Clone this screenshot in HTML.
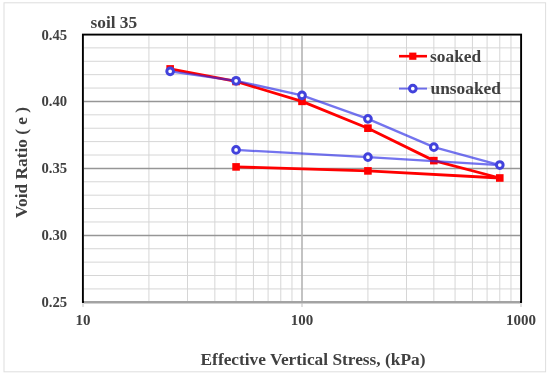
<!DOCTYPE html>
<html><head><meta charset="utf-8"><title>soil 35</title>
<style>html,body{margin:0;padding:0;background:#fff;width:550px;height:376px;overflow:hidden}
body{position:relative}</style></head><body>
<svg width="550" height="376" viewBox="0 0 550 376" style="position:absolute;left:0;top:0">
<rect x="4" y="2.8" width="541.6" height="369" fill="#fff" stroke="#dedede" stroke-width="1"/>
<line x1="84" x2="520" y1="288.91" y2="288.91" stroke="#d6d6d6" stroke-width="1"/>
<line x1="84" x2="520" y1="275.52" y2="275.52" stroke="#d6d6d6" stroke-width="1"/>
<line x1="84" x2="520" y1="262.13" y2="262.13" stroke="#d6d6d6" stroke-width="1"/>
<line x1="84" x2="520" y1="248.74" y2="248.74" stroke="#d6d6d6" stroke-width="1"/>
<line x1="84" x2="520" y1="221.96" y2="221.96" stroke="#d6d6d6" stroke-width="1"/>
<line x1="84" x2="520" y1="208.57" y2="208.57" stroke="#d6d6d6" stroke-width="1"/>
<line x1="84" x2="520" y1="195.18" y2="195.18" stroke="#d6d6d6" stroke-width="1"/>
<line x1="84" x2="520" y1="181.79" y2="181.79" stroke="#d6d6d6" stroke-width="1"/>
<line x1="84" x2="520" y1="155.01" y2="155.01" stroke="#d6d6d6" stroke-width="1"/>
<line x1="84" x2="520" y1="141.62" y2="141.62" stroke="#d6d6d6" stroke-width="1"/>
<line x1="84" x2="520" y1="128.23" y2="128.23" stroke="#d6d6d6" stroke-width="1"/>
<line x1="84" x2="520" y1="114.84" y2="114.84" stroke="#d6d6d6" stroke-width="1"/>
<line x1="84" x2="520" y1="88.06" y2="88.06" stroke="#d6d6d6" stroke-width="1"/>
<line x1="84" x2="520" y1="74.67" y2="74.67" stroke="#d6d6d6" stroke-width="1"/>
<line x1="84" x2="520" y1="61.28" y2="61.28" stroke="#d6d6d6" stroke-width="1"/>
<line x1="84" x2="520" y1="47.89" y2="47.89" stroke="#d6d6d6" stroke-width="1"/>
<line x1="148.93" x2="148.93" y1="36" y2="301" stroke="#d6d6d6" stroke-width="1"/>
<line x1="187.49" x2="187.49" y1="36" y2="301" stroke="#d6d6d6" stroke-width="1"/>
<line x1="214.85" x2="214.85" y1="36" y2="301" stroke="#d6d6d6" stroke-width="1"/>
<line x1="236.07" x2="236.07" y1="36" y2="301" stroke="#d6d6d6" stroke-width="1"/>
<line x1="253.42" x2="253.42" y1="36" y2="301" stroke="#d6d6d6" stroke-width="1"/>
<line x1="268.08" x2="268.08" y1="36" y2="301" stroke="#d6d6d6" stroke-width="1"/>
<line x1="280.78" x2="280.78" y1="36" y2="301" stroke="#d6d6d6" stroke-width="1"/>
<line x1="291.98" x2="291.98" y1="36" y2="301" stroke="#d6d6d6" stroke-width="1"/>
<line x1="367.93" x2="367.93" y1="36" y2="301" stroke="#d6d6d6" stroke-width="1"/>
<line x1="406.49" x2="406.49" y1="36" y2="301" stroke="#d6d6d6" stroke-width="1"/>
<line x1="433.85" x2="433.85" y1="36" y2="301" stroke="#d6d6d6" stroke-width="1"/>
<line x1="455.07" x2="455.07" y1="36" y2="301" stroke="#d6d6d6" stroke-width="1"/>
<line x1="472.42" x2="472.42" y1="36" y2="301" stroke="#d6d6d6" stroke-width="1"/>
<line x1="487.08" x2="487.08" y1="36" y2="301" stroke="#d6d6d6" stroke-width="1"/>
<line x1="499.78" x2="499.78" y1="36" y2="301" stroke="#d6d6d6" stroke-width="1"/>
<line x1="510.98" x2="510.98" y1="36" y2="301" stroke="#d6d6d6" stroke-width="1"/>
<line x1="84" x2="520" y1="235.50" y2="235.50" stroke="#969696" stroke-width="1.3"/>
<line x1="84" x2="520" y1="168.50" y2="168.50" stroke="#969696" stroke-width="1.3"/>
<line x1="84" x2="520" y1="101.50" y2="101.50" stroke="#969696" stroke-width="1.3"/>
<line x1="302.00" x2="302.00" y1="36" y2="301" stroke="#b4b4b4" stroke-width="1.6"/>
<rect x="82.9" y="34.6" width="438.2" height="267.4" fill="none" stroke="#000" stroke-width="1.9"/>
<line x1="84" x2="520" y1="302.3" y2="302.3" stroke="#a3a3a3" stroke-width="2.6"/>
<line x1="83.00" x2="83.00" y1="303" y2="307" stroke="#bfbfbf" stroke-width="1"/>
<line x1="302.00" x2="302.00" y1="303" y2="307" stroke="#bfbfbf" stroke-width="1"/>
<line x1="521.00" x2="521.00" y1="303" y2="307" stroke="#bfbfbf" stroke-width="1"/>
<polyline points="170.15,68.91 236.07,81.46 302.00,101.35 367.93,128.18 433.85,160.62 499.78,177.98" fill="none" stroke="#ff0000" stroke-width="2.8" stroke-linejoin="round"/>
<polyline points="499.78,177.98 367.93,170.90 236.07,166.90" fill="none" stroke="#ff0000" stroke-width="2.8" stroke-linejoin="round"/>
<rect x="166.35" y="65.11" width="7.6" height="7.6" fill="#ff0000"/>
<rect x="232.27" y="77.66" width="7.6" height="7.6" fill="#ff0000"/>
<rect x="298.20" y="97.55" width="7.6" height="7.6" fill="#ff0000"/>
<rect x="364.13" y="124.38" width="7.6" height="7.6" fill="#ff0000"/>
<rect x="430.05" y="156.82" width="7.6" height="7.6" fill="#ff0000"/>
<rect x="495.98" y="174.18" width="7.6" height="7.6" fill="#ff0000"/>
<rect x="364.13" y="167.10" width="7.6" height="7.6" fill="#ff0000"/>
<rect x="232.27" y="163.10" width="7.6" height="7.6" fill="#ff0000"/>
<polyline points="170.15,71.31 236.07,80.79 302.00,95.34 367.93,118.84 433.85,147.14 499.78,165.03" fill="none" stroke="#2a2ae6" stroke-opacity="0.65" stroke-width="2.3" stroke-linejoin="round"/>
<polyline points="499.78,165.03 367.93,157.15 236.07,149.94" fill="none" stroke="#2a2ae6" stroke-opacity="0.65" stroke-width="2.3" stroke-linejoin="round"/>
<circle cx="170.15" cy="71.31" r="3.35" fill="#fff" stroke="#4242dc" stroke-width="3.0"/>
<circle cx="236.07" cy="80.79" r="3.35" fill="#fff" stroke="#4242dc" stroke-width="3.0"/>
<circle cx="302.00" cy="95.34" r="3.35" fill="#fff" stroke="#4242dc" stroke-width="3.0"/>
<circle cx="367.93" cy="118.84" r="3.35" fill="#fff" stroke="#4242dc" stroke-width="3.0"/>
<circle cx="433.85" cy="147.14" r="3.35" fill="#fff" stroke="#4242dc" stroke-width="3.0"/>
<circle cx="499.78" cy="165.03" r="3.35" fill="#fff" stroke="#4242dc" stroke-width="3.0"/>
<circle cx="367.93" cy="157.15" r="3.35" fill="#fff" stroke="#4242dc" stroke-width="3.0"/>
<circle cx="236.07" cy="149.94" r="3.35" fill="#fff" stroke="#4242dc" stroke-width="3.0"/>
<line x1="399" x2="427" y1="56.2" y2="56.2" stroke="#ff0000" stroke-width="2.6"/>
<rect x="409.2" y="52.6" width="7.2" height="7.2" fill="#ff0000"/>
<line x1="399" x2="427" y1="88.6" y2="88.6" stroke="#2a2ae6" stroke-opacity="0.65" stroke-width="2"/>
<circle cx="412.8" cy="88.6" r="3.35" fill="#fff" stroke="#4242dc" stroke-width="3.0"/>
<text x="430.1" y="61.6" font-family="Liberation Serif, serif" font-weight="bold" font-size="17.33" fill="#404040">soaked</text>
<text x="430.6" y="93.5" font-family="Liberation Serif, serif" font-weight="bold" font-size="17.33" fill="#404040">unsoaked</text>
<text x="90.5" y="27.6" font-family="Liberation Serif, serif" font-weight="bold" font-size="17.33" fill="#404040">soil 35</text>
<text x="67.1" y="39.50" font-family="Liberation Serif, serif" font-weight="bold" font-size="14.67" fill="#404040" text-anchor="end">0.45</text>
<text x="67.1" y="106.45" font-family="Liberation Serif, serif" font-weight="bold" font-size="14.67" fill="#404040" text-anchor="end">0.40</text>
<text x="67.1" y="173.40" font-family="Liberation Serif, serif" font-weight="bold" font-size="14.67" fill="#404040" text-anchor="end">0.35</text>
<text x="67.1" y="240.35" font-family="Liberation Serif, serif" font-weight="bold" font-size="14.67" fill="#404040" text-anchor="end">0.30</text>
<text x="67.1" y="307.30" font-family="Liberation Serif, serif" font-weight="bold" font-size="14.67" fill="#404040" text-anchor="end">0.25</text>
<text x="83.00" y="325" font-family="Liberation Serif, serif" font-weight="bold" font-size="15" fill="#404040" text-anchor="middle">10</text>
<text x="302.00" y="325" font-family="Liberation Serif, serif" font-weight="bold" font-size="15" fill="#404040" text-anchor="middle">100</text>
<text x="521.00" y="325" font-family="Liberation Serif, serif" font-weight="bold" font-size="15" fill="#404040" text-anchor="middle">1000</text>
<text x="313" y="365" font-family="Liberation Serif, serif" font-weight="bold" font-size="17.33" fill="#404040" text-anchor="middle">Effective Vertical Stress, (kPa)</text>
<text transform="translate(26.6,162.4) rotate(-90)" x="0" y="0" font-family="Liberation Serif, serif" font-weight="bold" font-size="17.33" fill="#404040" text-anchor="middle">Void Ratio ( e )</text>
</svg>
</body></html>
